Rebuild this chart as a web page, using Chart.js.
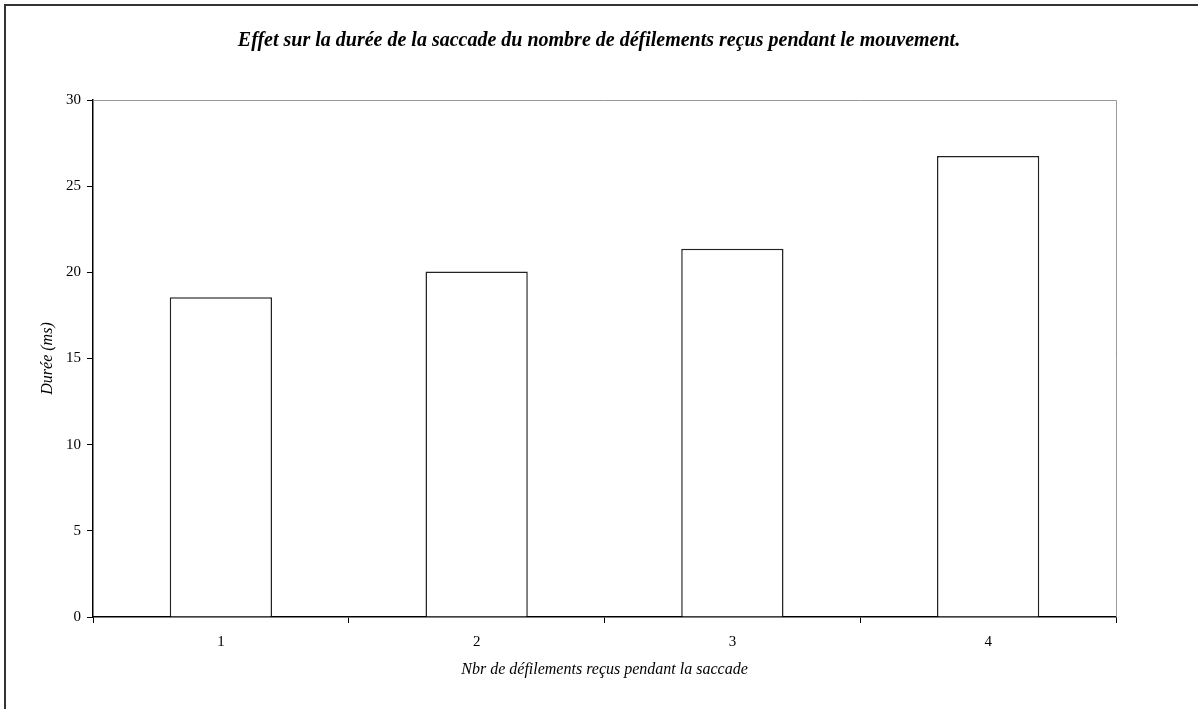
<!DOCTYPE html>
<html>
<head>
<meta charset="utf-8">
<script src="https://cdn.jsdelivr.net/npm/chart.js@4"></script>
<style>
  html, body { margin: 0; padding: 0; background: #fff; }
  #wrap { width: 1198px; height: 709px; position: relative; }
</style>
</head>
<body>
<div id="wrap"><canvas id="myChart" width="1198" height="709"></canvas></div>
<script>
const categories = ["1", "2", "3", "4"];
const durees = [18.55, 20.05, 21.37, 26.75];
const yTicks = [0, 5, 10, 15, 20, 25, 30];

const serif = "'Liberation Serif', 'Times New Roman', serif";

// cadre du graphique et bordure extérieure
const frame = {
  id: "frame",
  beforeDraw(chart) {
    const c = chart.ctx;
    c.save();
    c.fillStyle = "#fff";
    c.fillRect(0, 0, chart.width, chart.height);
    c.strokeStyle = "#333";
    c.lineWidth = 2;
    c.beginPath();
    c.moveTo(5, chart.height);
    c.lineTo(5, 5);
    c.lineTo(chart.width, 5);
    c.stroke();
    c.restore();
  },
  beforeDatasetsDraw(chart) {
    const a = chart.chartArea;
    const c = chart.ctx;
    c.save();
    c.strokeStyle = "#999";
    c.lineWidth = 1;
    c.beginPath();
    c.moveTo(a.left, a.top + 0.5);
    c.lineTo(a.right + 0.5, a.top + 0.5);
    c.lineTo(a.right + 0.5, a.bottom);
    c.stroke();
    c.restore();
  },
};

const ctx = document.getElementById("myChart");

new Chart(ctx, {
  type: "bar",
  data: {
    labels: categories,
    datasets: [
      {
        label: "Durée",
        data: durees,
        backgroundColor: "#fff",
        borderColor: "#222",
        borderWidth: 1.5,
        barPercentage: 0.4,
        categoryPercentage: 1,
      },
    ],
  },
  plugins: [frame],
  options: {
    responsive: false,
    animation: false,
    layout: {
      padding: 0,
    },
    plugins: {
      legend: false,
      tooltip: { enabled: false },
      title: {
        display: true,
        text: "Effet sur la durée de la saccade du nombre de défilements reçus pendant le mouvement.",
        color: "#000",
        font: { family: serif, size: 20, weight: "bold", style: "italic" },
        padding: { top: 29, bottom: 47 },
      },
    },
    scales: {
      x: {
        offset: true,
        afterFit: (scale) => {
          scale.height = 92;
        },
        grid: {
          offset: true,
          drawOnChartArea: false,
          color: "#000",
          tickLength: 6,
        },
        border: { color: "#000", width: 1.5 },
        ticks: {
          color: "#000",
          padding: 10,
          font: { family: serif, size: 15 },
        },
        title: {
          display: true,
          text: "Nbr de défilements reçus pendant la saccade",
          color: "#000",
          font: { family: serif, size: 16, style: "italic" },
          padding: { top: 0, bottom: 30 },
        },
      },
      y: {
        min: 0,
        max: 30,
        afterFit: (scale) => {
          scale.width = 93;
        },
        afterBuildTicks: (scale) => {
          scale.ticks = yTicks.map((v) => ({ value: v }));
        },
        grid: {
          drawOnChartArea: false,
          color: "#000",
          tickLength: 6,
        },
        border: { color: "#000", width: 1.5 },
        ticks: {
          color: "#000",
          padding: 6,
          font: { family: serif, size: 15 },
        },
        title: {
          display: true,
          text: "Durée (ms)",
          color: "#000",
          font: { family: serif, size: 16, style: "italic" },
          padding: { top: 38, bottom: 0 },
        },
      },
      // marge de droite
      yRight: {
        position: "right",
        afterFit: (scale) => {
          scale.width = 82;
        },
        grid: { display: false, drawTicks: false },
        border: { display: false },
        ticks: { display: false },
      },
    },
  },
});
</script>
</body>
</html>
